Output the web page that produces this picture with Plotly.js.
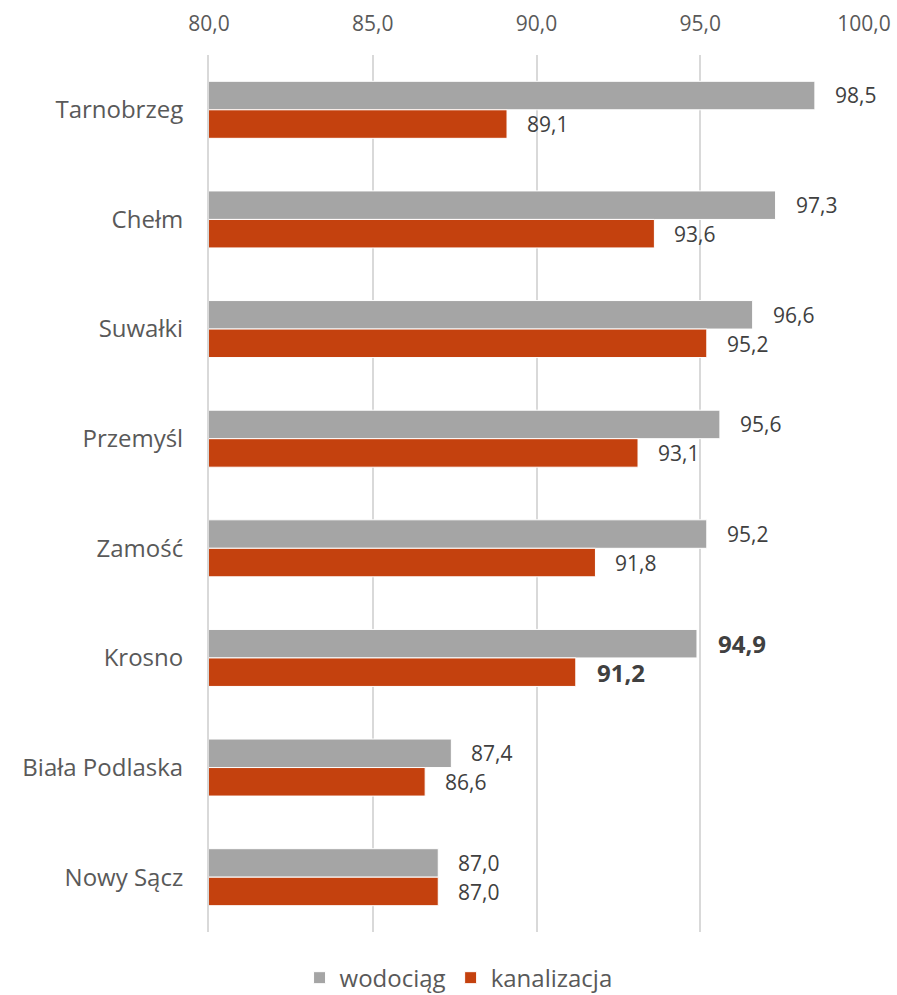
<!DOCTYPE html>
<html>
<head>
<meta charset="utf-8">
<script src="https://cdn.plot.ly/plotly-3.0.1.min.js"></script>
<style>html,body{margin:0;padding:0;background:#fff}#chart{width:897px;height:995px}</style>
</head>
<body>
<div id="chart"></div>
<script>
const categories = ['Tarnobrzeg','Chełm','Suwałki','Przemyśl','Zamość','Krosno','Biała Podlaska','Nowy Sącz'];
const wodociag = [98.5, 97.3, 96.6, 95.6, 95.2, 94.9, 87.4, 87.0];
const kanalizacja = [89.1, 93.6, 95.2, 93.1, 91.8, 91.2, 86.6, 87.0];
const seriesNames = ['wodociąg','kanalizacja'];
const xTicks = [80, 85, 90, 95, 100];
const highlighted = 'Krosno';

const fmt = v => v.toFixed(1).replace('.', ',');

const traces = [
  {type:'bar', orientation:'h', name:seriesNames[0], y:categories, x:wodociag,
   marker:{color:'#a5a5a5', line:{color:'#ffffff', width:1}}, hoverinfo:'none'},
  {type:'bar', orientation:'h', name:seriesNames[1], y:categories, x:kanalizacja,
   marker:{color:'#c4410e', line:{color:'#ffffff', width:1}}, hoverinfo:'none'}
];

const annotations = [];
[[wodociag, 14.5],[kanalizacja, -14.5]].forEach(([vals, shift]) => {
  vals.forEach((v, i) => {
    const bold = categories[i] === highlighted;
    annotations.push({
      x: v, y: categories[i], xref:'x', yref:'y',
      text: bold ? '<b>' + fmt(v) + '</b>' : fmt(v),
      showarrow:false, xanchor:'left', yanchor:'middle',
      xshift: bold ? 19 : 18, yshift: shift,
      font:{family:'Open Sans', size: bold ? 24 : 21, color:'#404040'}
    });
  });
});

const layout = {
  width:897, height:995,
  margin:{l:209, r:33, t:55, b:63},
  paper_bgcolor:'#fff', plot_bgcolor:'#fff',
  separators:',.',
  barmode:'group', bargap:0.48, bargroupgap:0,
  showlegend:true,
  legend:{orientation:'h', xref:'paper', yref:'container', x:0.381, xanchor:'center', y:0.017, yanchor:'middle',
          font:{family:'Open Sans', size:24, color:'#595959'}, itemwidth:30, traceorder:'normal'},
  xaxis:{side:'top', range:[80,100], tickvals:xTicks, ticktext:xTicks.map(fmt),
         showgrid:true, gridcolor:'#d9d9d9', gridwidth:2, zeroline:false, showline:false,
         ticks:'', ticklabelstandoff:19, fixedrange:true,
         tickfont:{family:'Open Sans', size:21, color:'#595959'}},
  yaxis:{type:'category', autorange:'reversed', showgrid:false, zeroline:false,
         showline:true, linecolor:'#d9d9d9', linewidth:2, ticks:'', ticklabelstandoff:19,
         tickfont:{family:'Open Sans', size:24, color:'#595959'}},
  annotations:annotations
};

Plotly.newPlot('chart', traces, layout, {displayModeBar:false, staticPlot:true});
</script>
</body>
</html>
